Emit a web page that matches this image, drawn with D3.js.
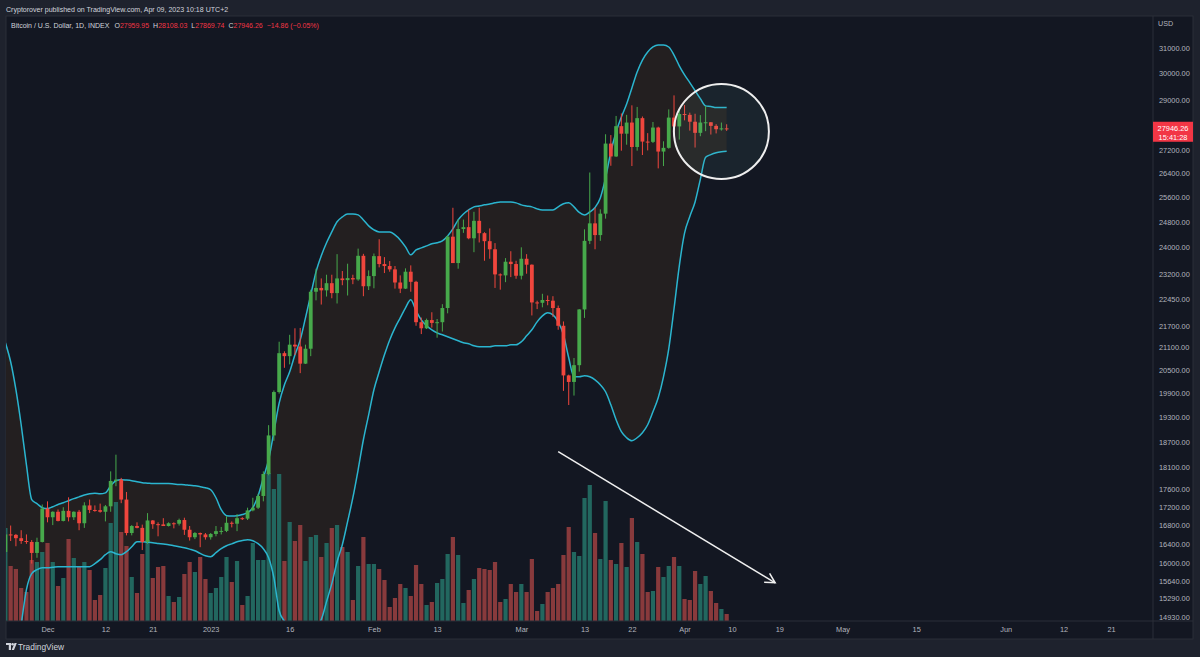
<!DOCTYPE html>
<html><head><meta charset="utf-8">
<script src="https://cdn.jsdelivr.net/npm/d3@7"></script>
<style>
html,body{margin:0;padding:0;background:#1e222d;overflow:hidden;}
svg{display:block;}
text{font-family:"Liberation Sans",Arial,sans-serif;}
</style></head><body>
<svg id="chart" width="1200" height="657"></svg>
<script>
// ---------------- DATA ----------------
const firstDay = "2022-11-23";   // first daily candle
const lastDay  = "2023-04-09";   // last daily candle

const opens = [16230,16600,16590,16520,16460,16440,16210,16440,
 17160,16970,17090,16890,17110,16970,17090,16840,17230,17130,17125,17090,17210,17780,17810,17360,16630,16780,16740,16440,16900,16820,16815,16780,16840,16830,16910,16700,16540,16630,16600,
 16540,16610,16670,16675,16850,16830,16950,16940,17120,17180,17440,17940,18850,19930,20950,20870,21180,21130,20670,21070,22670,22780,22710,22920,22630,23060,23010,23070,23030,23740,22830,
 23130,23730,23490,23430,23330,22940,22760,23260,22960,21800,21630,21860,21780,21800,22200,24330,23520,24570,24630,24280,24830,24440,24190,23940,23180,23150,23560,23490,
 23140,23650,23470,22360,22350,22430,22410,22200,21700,20360,20190,20630,22160,24200,24750,24380,25060,27420,26970,28040,27770,28170,27300,28330,27490,27480,27990,27140,27270,28350,28030,
 28480,28450,28200,27800,28170,28180,28050,27930,27959.95];
const highs = [16680,16790,16610,16690,16600,16480,16530,17250,
 17320,17100,17140,17190,17410,17100,17130,17300,17360,17230,17270,17240,18000,18390,17850,17530,16800,16860,16810,17060,16910,16860,16950,16860,16860,16940,16960,16780,16650,16640,16630,
 16630,16780,16760,16990,16880,17040,16970,17180,17400,17490,18000,19100,19970,21260,21000,21450,21630,21640,21180,22730,23350,23060,23170,23170,23790,23280,23500,23170,23960,23800,23300,
 23810,24250,23700,23580,23430,23150,23360,23450,22990,21930,21900,22080,21890,22310,24370,25250,24880,24870,25190,25120,25250,24470,24590,24130,23210,23670,23880,23590,
 24000,23790,23480,22410,22610,22560,22540,22270,21820,20380,20820,22170,24560,26420,25250,25200,27750,27720,28410,28500,28450,28800,28740,28390,27790,28190,28020,27500,28650,29170,28650,
 28810,28530,28490,28440,28770,28190,28110,28170,28108.03];
const lows = [16170,16460,16350,16400,16400,15990,16110,16430,
 16860,16800,16880,16880,16880,16910,16690,16740,17060,17090,17070,16880,17090,17660,17280,16580,16580,16730,16270,16400,16720,16560,16780,16770,16730,16790,16590,16470,16500,16330,16490,
 16490,16560,16600,16650,16750,16670,16910,16910,17100,17150,17320,17910,18720,19890,20560,20650,20900,20420,20660,20870,22420,22300,22530,22480,22330,22860,22560,22890,22990,22540,22720,
 22770,23390,23220,23260,22760,22630,22750,22670,21700,21470,21610,21650,21370,21540,22050,23530,23350,24450,24250,23850,24150,23590,23650,22780,22730,22950,23100,23050,
 23030,23200,21990,22170,22220,22280,21950,21590,19960,19600,19840,20460,21920,24100,23940,24200,24900,26650,26950,27170,27380,26640,27170,27020,27180,27440,26560,26640,27240,27720,27560,
 28250,27880,27280,27680,27860,27740,27780,27880,27869.74];
const closes = [16600,16590,16520,16460,16440,16210,16440,17160,
 16970,17090,16890,17110,16970,17090,16840,17230,17130,17125,17090,17210,17780,17810,17360,16630,16780,16740,16440,16900,16820,16815,16780,16840,16830,16910,16700,16540,16630,16600,16540,
 16610,16670,16675,16850,16830,16950,16940,17120,17180,17440,17940,18850,19930,20950,20870,21180,21130,20670,21070,22670,22780,22710,22920,22630,23060,23010,23070,23030,23740,22830,23130,
 23730,23490,23430,23330,22940,22760,23260,22960,21800,21630,21860,21780,21800,22200,24330,23520,24570,24630,24280,24830,24440,24190,23940,23180,23150,23560,23490,23140,
 23650,23470,22360,22350,22430,22410,22200,21700,20360,20190,20630,22160,24200,24750,24380,25060,27420,26970,28040,27770,28170,27300,28330,27490,27480,27990,27140,27270,28350,28030,28480,
 28450,28200,27800,28170,28180,28050,27930,27960,27946.26];
// daily volume (relative units)
const volumes = [93,55,52,33,29,61,59,69,
 78,59,35,43,82,63,55,59,51,21,26,53,98,119,89,75,44,28,67,81,43,54,55,25,19,24,47,59,49,64,42,
 28,33,44,64,39,60,16,25,78,61,61,148,132,147,60,99,80,96,60,84,86,64,78,93,96,74,69,21,55,84,57,
 57,52,41,14,23,37,33,25,56,37,16,19,38,42,67,84,66,18,31,42,53,52,51,59,19,22,37,29,
 37,29,62,10,17,29,33,37,66,94,69,65,123,136,88,62,120,61,57,78,54,103,79,67,29,30,54,44,55,64,55,
 22,21,50,37,45,30,18,12,7];
// Bollinger Band (20, 2) upper / lower lines, one value per day
const bbUpper = [21230,20720,19990,19110,18150,17360,17270,17180,
 17160,17200,17250,17290,17335,17380,17420,17460,17490,17500,17490,17510,17670,17785,17810,17800,17785,17760,17740,17730,17720,17720,17720,17720,17710,17700,17695,17680,17670,17650,17626,
 17580,17400,17135,17005,16995,17005,17030,17070,17180,17445,17853,18270,18940,19650,20115,20455,20905,21310,21922,22580,23255,23740,24140,24480,24800,24955,25050,25050,25020,24860,24670,
 24545,24480,24480,24480,24385,24230,24015,23770,23920,23983,24045,24110,24140,24200,24355,24575,24860,25050,25180,25280,25310,25345,25375,25410,25440,25440,25440,25410,
 25345,25310,25280,25215,25180,25180,25180,25280,25380,25410,25280,25100,25020,25115,25260,25572,26237,27125,27830,28373,28850,29450,30060,30525,30840,31040,31120,31120,31040,30720,30300,
 29950,29650,29350,29050,28780,28760,28720,28720,28718];
const bbLower = [13500,13700,14130,14785,15465,15785,15865,15906,
 15906,15915,15926,15926,15926,15926,15926,15926,15926,15990,16070,16173,16236,16194,16173,16236,16340,16445,16445,16435,16424,16410,16396,16382,16360,16340,16319,16290,16257,16200,16152,
 16131,16215,16298,16361,16400,16445,16470,16488,16466,16403,16298,16111,15703,15050,14850,14700,14640,14620,14660,14690,14760,14880,15227,15583,16029,16382,16874,17401,18037,18746,19356,
 19988,20455,20905,21310,21643,21922,22206,22435,22120,21866,21700,21588,21505,21450,21395,21340,21285,21230,21203,21148,21121,21121,21121,21148,21148,21148,21175,21175,
 21258,21422,21588,21810,21978,22063,22006,21810,21450,20826,20324,20324,20350,20324,20246,20117,19937,19607,19233,18940,18794,18720,18794,18915,19110,19430,19784,20324,21065,22180,23430,
 24440,24970,25440,26190,26940,27035,27100,27135,27154];

const priceTicks = [31000,30000,29000,27200,26400,25600,24800,24000,23200,22450,21700,21100,20500,19900,19300,18700,18100,17600,17200,16800,16400,16000,15640,15290,14930];
const timeTickDates  = ["2022-12-01","2022-12-12","2022-12-21","2023-01-01","2023-01-16","2023-02-01","2023-02-13","2023-03-01","2023-03-13","2023-03-22","2023-04-01","2023-04-10","2023-04-19","2023-05-01","2023-05-15","2023-06-01","2023-06-12","2023-06-21"];
const timeTickLabels = ["Dec","12","21","2023","16","Feb","13","Mar","13","22","Apr","10","19","May","15","Jun","12","21"];

const lastPrice = 27946.26;
const lastTimer = "15:41:28";
const legendOHLC = [["O","27959.95"],["H","28108.03"],["L","27869.74"],["C","27946.26"]];
const legendChange = "\u221214.86 (\u22120.05%)";

// annotation anchors (date, price)
const circleAnchor = ["2023-04-08", 27850];
const arrowFrom = ["2023-03-08", 18460];
const arrowTo   = ["2023-04-18T05:00:00Z", 15600];

// ---------------- LAYOUT ----------------
const pane = {l:6, t:16, r:1193, b:639};
const plotR = 1153, plotB = 621;
const C = {
  page:"#1e222d", pane:"#131722", border:"#2a2e39", text:"#b2b5be", title:"#d1d4dc",
  up:"#47a94b", down:"#f0463d", volUp:"#22675f", volDown:"#883a3c",
  band:"#2bb5cf", fill:"#231f20", red:"#f23645"
};

const parse = s => new Date(s.length > 10 ? s : s + "T00:00:00Z");
const days = d3.utcDay.range(parse(firstDay), d3.utcDay.offset(parse(lastDay), 1));
const candles = days.map((d,i)=>({d, o:opens[i], h:highs[i], l:lows[i], c:closes[i], v:volumes[i], up:bbUpper[i], lo:bbLower[i]}));

const x = d3.scaleUtc().domain([parse("2022-12-01"), parse("2023-06-21")]).range([47.5, 1111]);
const y = d3.scaleLog().domain([14930, 31000]).range([617, 48]);
const yv = d3.scaleLinear().domain([0, 150]).range([plotB, plotB - 150]);

const svg = d3.select("#chart");
svg.append("rect").attr("width",1200).attr("height",657).attr("fill",C.page);
svg.append("rect").attr("x",pane.l).attr("y",pane.t).attr("width",pane.r-pane.l).attr("height",pane.b-pane.t)
  .attr("fill",C.pane).attr("stroke",C.border).attr("stroke-width",1);

svg.append("defs").append("clipPath").attr("id","plotclip")
  .append("rect").attr("x",pane.l).attr("y",pane.t).attr("width",plotR-pane.l).attr("height",plotB-pane.t);
const g = svg.append("g").attr("clip-path","url(#plotclip)");

// Bollinger fill
const area = d3.area().x(d=>x(d.d)).y0(d=>y(d.lo)).y1(d=>y(d.up)).curve(d3.curveMonotoneX);
g.append("path").datum(candles).attr("d",area).attr("fill",C.fill);

// volume
const vw = 4.2;
g.selectAll("rect.vol").data(candles).join("rect").attr("class","vol")
  .attr("x",d=>x(d.d)-vw/2).attr("width",vw)
  .attr("y",d=>yv(d.v)).attr("height",d=>plotB - yv(d.v))
  .attr("fill",d=>d.c>=d.o?C.volUp:C.volDown);

// band lines
const lineU = d3.line().x(d=>x(d.d)).y(d=>y(d.up)).curve(d3.curveMonotoneX);
const lineL = d3.line().x(d=>x(d.d)).y(d=>y(d.lo)).curve(d3.curveMonotoneX);
g.append("path").datum(candles).attr("d",lineU).attr("fill","none").attr("stroke",C.band).attr("stroke-width",1.5);
g.append("path").datum(candles).attr("d",lineL).attr("fill","none").attr("stroke",C.band).attr("stroke-width",1.5);

// candles
const bw = 3.8;
const cg = g.selectAll("g.c").data(candles).join("g").attr("class","c");
cg.append("line").attr("x1",d=>x(d.d)).attr("x2",d=>x(d.d))
  .attr("y1",d=>y(d.h)).attr("y2",d=>y(d.l))
  .attr("stroke",d=>d.c>=d.o?C.up:C.down).attr("stroke-width",1);
cg.append("rect").attr("x",d=>x(d.d)-bw/2).attr("width",bw)
  .attr("y",d=>y(Math.max(d.o,d.c))).attr("height",d=>Math.max(1,Math.abs(y(d.o)-y(d.c))))
  .attr("fill",d=>d.c>=d.o?C.up:C.down);

// circle annotation
g.append("circle").attr("cx",x(parse(circleAnchor[0]))).attr("cy",y(circleAnchor[1])).attr("r",47.5)
  .attr("fill","rgba(110,190,180,0.08)").attr("stroke","#eeeeee").attr("stroke-width",2);

// arrow annotation
const ax1 = x(parse(arrowFrom[0])), ay1 = y(arrowFrom[1]);
const ax2 = x(parse(arrowTo[0])),   ay2 = y(arrowTo[1]);
g.append("line").attr("x1",ax1).attr("y1",ay1).attr("x2",ax2).attr("y2",ay2).attr("stroke","#f0f0f0").attr("stroke-width",1.5);
const ang = Math.atan2(ay2-ay1, ax2-ax1), hl = 11, ha = 0.5;
g.append("path").attr("d",
   `M${ax2-hl*Math.cos(ang-ha)},${ay2-hl*Math.sin(ang-ha)}L${ax2},${ay2}L${ax2-hl*Math.cos(ang+ha)},${ay2-hl*Math.sin(ang+ha)}`)
  .attr("fill","none").attr("stroke","#f0f0f0").attr("stroke-width",1.5);

// separators
svg.append("line").attr("x1",plotR).attr("x2",plotR).attr("y1",pane.t).attr("y2",pane.b).attr("stroke",C.border);
svg.append("line").attr("x1",pane.l).attr("x2",pane.r).attr("y1",plotB).attr("y2",plotB).attr("stroke",C.border);

// price axis
const yAxis = d3.axisRight(y).tickValues(priceTicks).tickFormat(d3.format(".2f")).tickSize(0).tickPadding(6);
const ya = svg.append("g").attr("transform",`translate(${plotR},0)`).call(yAxis);
ya.select(".domain").remove();
ya.selectAll("text").attr("fill",C.text).style("font-size","7.4px").style("font-family","Liberation Sans, Arial, sans-serif");
svg.append("text").attr("x",1158).attr("y",26).attr("fill",C.text).style("font-size","7.2px").text("USD");

// last price label
const lpY = y(lastPrice);
svg.append("rect").attr("x",plotR).attr("y",lpY-7).attr("width",pane.r-plotR).attr("height",20).attr("fill",C.red);
svg.append("text").attr("x",1173).attr("y",lpY+2.6).attr("text-anchor","middle").attr("fill","#ffffff").style("font-size","7.4px").text(d3.format(".2f")(lastPrice));
svg.append("text").attr("x",1173).attr("y",lpY+11.3).attr("text-anchor","middle").attr("fill","#ffffff").style("font-size","7.4px").text(lastTimer);

// time axis
const xAxis = d3.axisBottom(x).tickValues(timeTickDates.map(parse))
  .tickFormat((d,i)=>timeTickLabels[i]).tickSize(0).tickPadding(6);
const xa = svg.append("g").attr("transform",`translate(0,${plotB})`).call(xAxis);
xa.select(".domain").remove();
xa.selectAll("text").attr("fill",C.text).style("font-size","7.4px").style("font-family","Liberation Sans, Arial, sans-serif");

// header
svg.append("text").attr("x",6).attr("y",12).attr("fill",C.title).style("font-size","7.05px")
  .text("Cryptorover published on TradingView.com, Apr 09, 2023 10:18 UTC+2");
const lg = svg.append("text").attr("x",11).attr("y",28).style("font-size","7.0px").attr("fill",C.title);
lg.append("tspan").text("Bitcoin / U.S. Dollar, 1D, INDEX");
legendOHLC.forEach((p,i)=>{
  lg.append("tspan").attr("dx", i===0?5:4).attr("fill",C.title).text(p[0]);
  lg.append("tspan").attr("fill",C.red).text(p[1]);
});
lg.append("tspan").attr("dx",4).attr("fill",C.red).text(legendChange);

// footer logo
const fl = svg.append("g").attr("transform","translate(6,643)").attr("fill","#d1d4dc");
fl.append("path").attr("d","M0,0H5V7H2.8V2H0Z");
fl.append("circle").attr("cx",6.6).attr("cy",1.3).attr("r",1.3);
fl.append("path").attr("d","M8.5,0H10.8L8,7H5.7Z");
svg.append("text").attr("x",18).attr("y",650).attr("fill","#d1d4dc").style("font-size","8.4px").text("TradingView");
</script>
</body></html>
